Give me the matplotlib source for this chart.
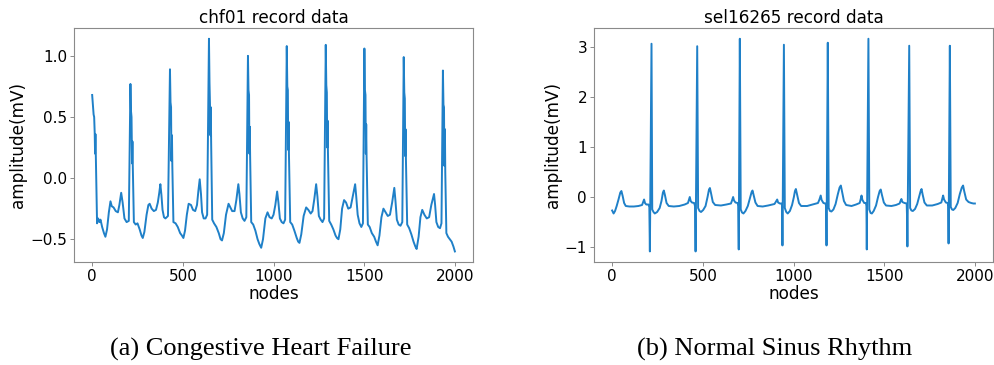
import matplotlib
matplotlib.use("Agg")
import matplotlib.pyplot as plt

# chf01 record (congestive heart failure) - vertices
chf_x = [0, 4, 8, 11, 14, 16, 18, 21, 27, 33, 40, 46, 55, 65, 73, 82, 92, 101, 108, 118, 130, 142, 150, 160, 168, 178, 190, 202,
         211, 214, 217, 220, 222, 224, 230, 240, 250, 262, 272, 279, 288, 300, 310, 317, 328, 340, 352, 362, 370, 376, 382, 388, 396, 404, 418,
         429, 432, 435, 437, 440, 442, 448, 460, 472, 485, 495, 503, 512, 522, 532, 545, 556, 568, 578, 586, 593, 600, 606, 615, 625, 634,
         644, 647, 650, 652, 654, 656, 662, 672, 685, 698, 708, 716, 726, 738, 752, 762, 772, 785, 795, 806, 812, 820, 830, 840, 850,
         859, 862, 865, 867, 869, 871, 877, 888, 900, 912, 922, 932, 942, 955, 967, 978, 990, 1000, 1010, 1020, 1027, 1035, 1045, 1055, 1064,
         1073, 1076, 1079, 1081, 1083, 1085, 1092, 1103, 1115, 1128, 1136, 1143, 1153, 1166, 1180, 1192, 1205, 1215, 1225, 1235, 1242, 1250, 1260, 1270, 1279,
         1288, 1291, 1294, 1296, 1298, 1300, 1307, 1318, 1330, 1342, 1350, 1358, 1368, 1378, 1389, 1400, 1412, 1425, 1437, 1450, 1456, 1464, 1474, 1484, 1493,
         1501, 1504, 1507, 1509, 1511, 1513, 1520, 1530, 1542, 1555, 1565, 1574, 1584, 1595, 1606, 1618, 1630, 1642, 1654, 1666, 1672, 1680, 1690, 1700, 1710,
         1718, 1721, 1724, 1726, 1728, 1730, 1737, 1748, 1760, 1772, 1782, 1789, 1800, 1810, 1820, 1832, 1845, 1858, 1870, 1885, 1891, 1898, 1908, 1918, 1926,
         1934, 1937, 1940, 1942, 1945, 1947, 1953, 1962, 1972, 1982, 1992, 2000]
chf_y = [0.68, 0.60, 0.52, 0.50, 0.37, 0.20, 0.36, 0.10, -0.37, -0.33, -0.36, -0.34, -0.40, -0.45, -0.48, -0.42, -0.28, -0.19, -0.23, -0.24, -0.27, -0.28, -0.22, -0.12, -0.20, -0.33, -0.36, -0.35,
         0.77, 0.55, 0.50, 0.12, 0.30, 0.10, -0.36, -0.38, -0.37, -0.42, -0.47, -0.49, -0.44, -0.30, -0.22, -0.21, -0.25, -0.27, -0.26, -0.20, -0.12, -0.05, -0.14, -0.26, -0.32, -0.33, -0.31,
         0.89, 0.62, 0.58, 0.14, 0.35, 0.10, -0.36, -0.37, -0.40, -0.45, -0.47, -0.49, -0.43, -0.30, -0.21, -0.22, -0.26, -0.27, -0.22, -0.10, -0.01, -0.13, -0.28, -0.33, -0.33, -0.30,
         1.14, 0.78, 0.58, 0.35, 0.58, 0.30, -0.34, -0.37, -0.40, -0.45, -0.50, -0.51, -0.45, -0.30, -0.21, -0.24, -0.27, -0.27, -0.18, -0.05, -0.13, -0.28, -0.33, -0.35, -0.32,
         1.00, 0.72, 0.68, 0.20, 0.42, 0.18, -0.36, -0.38, -0.43, -0.50, -0.54, -0.57, -0.50, -0.33, -0.28, -0.32, -0.33, -0.30, -0.22, -0.11, -0.20, -0.33, -0.36, -0.37, -0.34,
         1.08, 0.75, 0.72, 0.23, 0.46, 0.20, -0.36, -0.38, -0.43, -0.49, -0.52, -0.53, -0.46, -0.31, -0.24, -0.26, -0.29, -0.27, -0.17, -0.05, -0.15, -0.31, -0.34, -0.36, -0.33,
         1.09, 0.76, 0.70, 0.25, 0.47, 0.22, -0.35, -0.38, -0.42, -0.47, -0.49, -0.50, -0.42, -0.25, -0.18, -0.20, -0.25, -0.24, -0.15, -0.05, -0.15, -0.30, -0.37, -0.40, -0.37,
         1.06, 0.72, 0.68, 0.20, 0.44, 0.18, -0.38, -0.40, -0.45, -0.48, -0.52, -0.55, -0.47, -0.32, -0.25, -0.28, -0.31, -0.30, -0.20, -0.08, -0.18, -0.34, -0.38, -0.39, -0.36,
         0.99, 0.70, 0.65, 0.18, 0.40, 0.16, -0.38, -0.41, -0.46, -0.52, -0.56, -0.58, -0.48, -0.32, -0.26, -0.30, -0.33, -0.32, -0.22, -0.13, -0.22, -0.36, -0.40, -0.41, -0.37,
         0.88, 0.60, 0.58, 0.10, 0.40, 0.05, -0.45, -0.48, -0.50, -0.52, -0.56, -0.60]

# sel16265 record (normal sinus rhythm)
sel_x = [0, 8, 16, 25, 35, 45, 51, 58, 66, 75, 95, 120, 145, 165, 171, 176, 181, 188, 200, 205,
         208, 217, 221, 228, 235, 248, 262, 272, 280, 285, 291, 300, 312, 340, 370, 400, 418, 423, 428, 433, 440, 452, 457,
         460, 469, 474, 482, 490, 502, 515, 526, 534, 539, 545, 555, 568, 600, 630, 655, 661, 667, 672, 680, 692, 695,
         698, 704, 709, 716, 724, 735, 748, 760, 769, 774, 780, 790, 802, 830, 860, 895, 902, 910, 915, 925, 934, 937,
         939, 947, 952, 960, 968, 980, 992, 1002, 1008, 1013, 1019, 1030, 1042, 1075, 1105, 1135, 1143, 1150, 1155, 1165, 1176, 1180,
         1182, 1189, 1194, 1201, 1209, 1220, 1232, 1244, 1254, 1261, 1267, 1278, 1290, 1320, 1345, 1365, 1370, 1375, 1380, 1390, 1399, 1402,
         1404, 1413, 1418, 1425, 1432, 1442, 1455, 1466, 1475, 1481, 1487, 1498, 1510, 1540, 1565, 1585, 1590, 1595, 1600, 1612, 1624, 1626,
         1628, 1638, 1643, 1650, 1658, 1670, 1682, 1694, 1701, 1706, 1712, 1722, 1735, 1765, 1795, 1815, 1820, 1825, 1830, 1840, 1850, 1853,
         1855, 1862, 1867, 1874, 1881, 1892, 1905, 1917, 1928, 1935, 1941, 1952, 1965, 1980, 1992, 2000]
sel_y = [-0.27, -0.33, -0.28, -0.18, -0.05, 0.09, 0.12, 0.02, -0.12, -0.18, -0.19, -0.19, -0.18, -0.16, -0.10, -0.05, -0.12, -0.15, -0.15, -0.20,
         -1.09, 3.07, -0.25, -0.30, -0.33, -0.30, -0.22, -0.08, 0.09, 0.13, 0.04, -0.12, -0.18, -0.19, -0.18, -0.15, -0.12, -0.06, 0.00, -0.08, -0.11, -0.12, -0.18,
         -1.09, 3.02, -0.22, -0.28, -0.30, -0.26, -0.18, 0.00, 0.15, 0.18, 0.08, -0.10, -0.16, -0.17, -0.15, -0.13, -0.07, 0.00, -0.07, -0.11, -0.12, -0.18,
         -1.05, 3.17, -0.25, -0.31, -0.33, -0.28, -0.18, -0.02, 0.10, 0.13, 0.04, -0.11, -0.18, -0.19, -0.17, -0.14, -0.10, -0.05, -0.11, -0.13, -0.13, -0.18,
         -0.97, 3.05, -0.22, -0.30, -0.33, -0.28, -0.16, 0.00, 0.12, 0.16, 0.06, -0.12, -0.18, -0.18, -0.15, -0.12, -0.05, 0.03, -0.06, -0.12, -0.13, -0.18,
         -0.97, 3.09, -0.22, -0.28, -0.29, -0.25, -0.14, 0.05, 0.19, 0.23, 0.12, -0.08, -0.16, -0.18, -0.15, -0.12, -0.05, 0.03, -0.06, -0.12, -0.12, -0.18,
         -1.05, 3.17, -0.25, -0.32, -0.33, -0.28, -0.17, 0.00, 0.12, 0.15, 0.05, -0.11, -0.17, -0.18, -0.16, -0.13, -0.08, -0.04, -0.10, -0.12, -0.13, -0.40,
         -0.99, 3.03, -0.22, -0.27, -0.28, -0.24, -0.14, 0.02, 0.12, 0.16, 0.05, -0.11, -0.17, -0.17, -0.14, -0.11, -0.04, 0.03, -0.05, -0.11, -0.12, -0.18,
         -0.93, 3.03, -0.20, -0.25, -0.26, -0.22, -0.12, 0.06, 0.19, 0.23, 0.12, -0.05, -0.10, -0.12, -0.13, -0.13]

titles = ["chf01 record data", "sel16265 record data"]
captions = ["(a) Congestive Heart Failure", "(b) Normal Sinus Rhythm"]
line_color = "#1f80c8"

fig = plt.figure(figsize=(9.95, 3.65), dpi=100)
ax1 = fig.add_axes([0.0744, 0.282, 0.401, 0.641])
ax2 = fig.add_axes([0.597, 0.282, 0.401, 0.641])

for ax, xs, ys, t in [(ax1, chf_x, chf_y, titles[0]), (ax2, sel_x, sel_y, titles[1])]:
    ax.plot(xs, ys, color=line_color, lw=1.4)
    ax.set_title(t, fontsize=12.2, pad=4)
    ax.set_xlabel("nodes", fontsize=12.2, labelpad=1)
    ax.set_ylabel("amplitude(mV)", fontsize=12.2, labelpad=2)
    ax.set_xticks([0, 500, 1000, 1500, 2000])
    ax.tick_params(labelsize=11, length=3, width=0.6, color="#777777", pad=2)
    for s in ax.spines.values():
        s.set_color("#8a8a8a")
        s.set_linewidth(0.8)

ax1.set_yticks([-0.5, 0.0, 0.5, 1.0])
ax2.set_yticks([-1, 0, 1, 2, 3])

fig.text(0.262, 0.027, captions[0], ha="center", va="baseline",
         family="Liberation Serif", fontsize=19)
fig.text(0.779, 0.027, captions[1], ha="center", va="baseline",
         family="Liberation Serif", fontsize=19)

fig.savefig("out.png", dpi=100)
